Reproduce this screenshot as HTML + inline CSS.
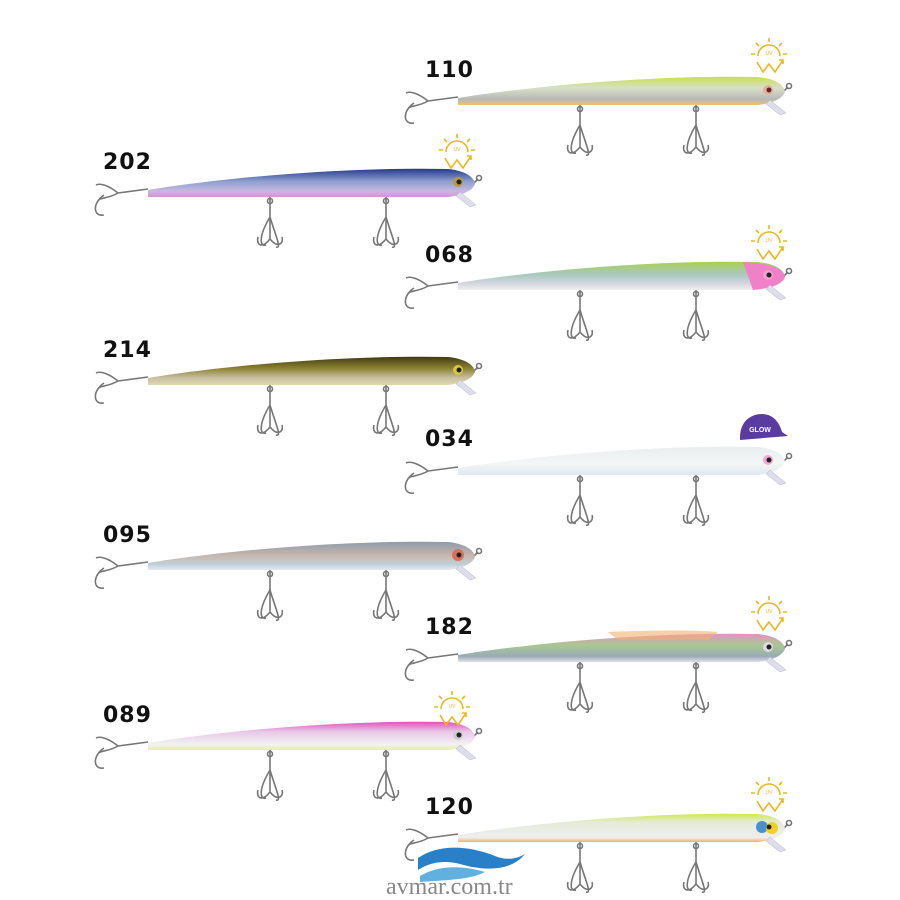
<!DOCTYPE html>
<html><head><meta charset="utf-8"><style>
html,body{margin:0;padding:0;background:#fff;width:900px;height:900px;overflow:hidden}
svg{display:block}
.lbl{font-family:"DejaVu Sans","Liberation Sans",sans-serif;font-weight:bold;font-size:22px;fill:#111;letter-spacing:1px}
</style></head><body>
<svg width="900" height="900" viewBox="0 0 900 900" xmlns="http://www.w3.org/2000/svg">
<defs>
<g id="hooks" fill="none" stroke="#777" stroke-width="1.6">
  <path d="M0,-8 L-30,-4 M-30,-4 C-40,-12 -48,-14 -52,-12 M-30,-4 C-40,2 -48,0 -50,4 M-44,-2 C-56,6 -55,20 -44,18"/>
  <path d="M122,0 L122,20 M122,20 C110,40 112,50 118,48 M122,20 C128,40 134,52 128,50 M122,20 L122,42 C114,52 108,48 110,40 M122,42 C130,52 136,46 134,40"/>
  <path d="M238,0 L238,20 M238,20 C226,40 228,50 234,48 M238,20 C244,40 250,52 244,50 M238,20 L238,42 C230,52 224,48 226,40 M238,42 C246,52 252,46 250,40"/>
  <circle cx="122" cy="4" r="2.5"/><circle cx="238" cy="4" r="2.5"/>
  <path d="M325,-13 L330,-18" />
  <circle cx="331" cy="-19" r="2.5"/>
</g>
<path id="lip" d="M312,-5 L328,8 L322,10 L308,-1 Z" fill="#dde" stroke="#bbb" stroke-width=".5"/>
<path id="body" d="M0,-7 C80,-20 200,-30 300,-28 C318,-26 326,-20 327,-13 C324,-6 315,-2 300,0 L0,0 Z"/>
<linearGradient id="g202" x1="0" y1="0" x2="0" y2="1"><stop offset="0" stop-color="#233a8a"/><stop offset=".45" stop-color="#8fa0d0"/><stop offset=".8" stop-color="#c8b8e0"/><stop offset="1" stop-color="#d690d8"/></linearGradient>
<linearGradient id="g214" x1="0" y1="0" x2="0" y2="1"><stop offset="0" stop-color="#3e3a12"/><stop offset=".4" stop-color="#8a8030"/><stop offset=".75" stop-color="#c8c0a0"/><stop offset="1" stop-color="#e0d8b0"/></linearGradient>
<linearGradient id="g095" x1="0" y1="0" x2="0" y2="1"><stop offset="0" stop-color="#8e9aa8"/><stop offset=".5" stop-color="#c8b8b0"/><stop offset=".8" stop-color="#c0d0d8"/><stop offset="1" stop-color="#e8e8f0"/></linearGradient>
<linearGradient id="g089" x1="0" y1="0" x2="0" y2="1"><stop offset="0" stop-color="#e050c0"/><stop offset=".35" stop-color="#e8c8e8"/><stop offset=".8" stop-color="#f2f2f2"/><stop offset="1" stop-color="#e8f0a0"/></linearGradient>
<linearGradient id="g110" x1="0" y1="0" x2="0" y2="1"><stop offset="0" stop-color="#c8e050"/><stop offset=".4" stop-color="#d8e0c8"/><stop offset=".8" stop-color="#b8b8b8"/><stop offset="1" stop-color="#f0c070"/></linearGradient>
<linearGradient id="g068" x1="0" y1="0" x2="0" y2="1"><stop offset="0" stop-color="#a8d050"/><stop offset=".45" stop-color="#a8c8c0"/><stop offset=".8" stop-color="#d8d8e0"/><stop offset="1" stop-color="#f0f0f0"/></linearGradient>
<linearGradient id="g034" x1="0" y1="0" x2="0" y2="1"><stop offset="0" stop-color="#e8eef0"/><stop offset=".6" stop-color="#f4f6f6"/><stop offset="1" stop-color="#e0e8ee"/></linearGradient>
<linearGradient id="g182" x1="0" y1="0" x2="0" y2="1"><stop offset="0" stop-color="#e890c8"/><stop offset=".4" stop-color="#a8c890"/><stop offset=".8" stop-color="#9aaab8"/><stop offset="1" stop-color="#e0e0e8"/></linearGradient>
<linearGradient id="g120" x1="0" y1="0" x2="0" y2="1"><stop offset="0" stop-color="#d0e850"/><stop offset=".3" stop-color="#e4ecd8"/><stop offset=".85" stop-color="#eeeeee"/><stop offset="1" stop-color="#f0b060"/></linearGradient>
<g id="uv" fill="none" stroke="#e8b820" stroke-width="1.6">
  <path d="M-11,0 A11,11 0 0 1 11,0"/>
  <path d="M0,-14 L0,-18 M-10,-10 L-13,-13 M10,-10 L13,-13 M-14,-2 L-18,-2 M14,-2 L18,-2"/>
  <path d="M-12,6 L-6,16 L0,8 L6,16 L14,4 M10,4 L14,4 L14,8"/>
  <text x="0" y="-1" font-size="5" fill="#e8b820" stroke="none" text-anchor="middle" font-family="Liberation Sans">UV</text>
</g>
</defs>

<g transform="translate(148,197)"><use href="#hooks"/><use href="#body" fill="url(#g202)"/><use href="#lip"/><circle cx="310" cy="-15" r="5" fill="#b89a40"/><circle cx="311" cy="-15" r="2.5" fill="#222"/></g>
<g transform="translate(148,385)"><use href="#hooks"/><use href="#body" fill="url(#g214)"/><use href="#lip"/><circle cx="310" cy="-15" r="5" fill="#d8c840"/><circle cx="311" cy="-15" r="2.5" fill="#222"/></g>
<g transform="translate(148,570)"><use href="#hooks"/><use href="#body" fill="url(#g095)"/><use href="#lip"/><circle cx="310" cy="-15" r="6" fill="#d87060"/><circle cx="311" cy="-15" r="2.5" fill="#222"/></g>
<g transform="translate(148,750)"><use href="#hooks"/><use href="#body" fill="url(#g089)"/><use href="#lip"/><circle cx="310" cy="-15" r="5" fill="#ccc"/><circle cx="311" cy="-15" r="2.5" fill="#222"/></g>

<g transform="translate(458,105)"><use href="#hooks"/><use href="#body" fill="url(#g110)"/><use href="#lip"/><circle cx="310" cy="-15" r="5" fill="#e0b0a0"/><circle cx="311" cy="-15" r="2.5" fill="#622"/></g>
<g transform="translate(458,290)"><use href="#hooks"/><use href="#body" fill="url(#g068)"/><path d="M285,-28 C318,-26 326,-20 327,-13 C324,-6 315,-2 295,0 Z" fill="#f080c8"/><use href="#lip"/><circle cx="310" cy="-15" r="5" fill="#f0a0d0"/><circle cx="311" cy="-15" r="2.5" fill="#222"/></g>
<g transform="translate(458,475)"><use href="#hooks"/><use href="#body" fill="url(#g034)"/><use href="#lip"/><circle cx="310" cy="-15" r="5" fill="#f0a8d0"/><circle cx="311" cy="-15" r="2.5" fill="#222"/></g>
<g transform="translate(458,662)"><use href="#hooks"/><use href="#body" fill="url(#g182)"/><path d="M150,-30 C200,-32 240,-32 260,-30 L250,-22 L160,-22 Z" fill="#f0b070" opacity=".6"/><use href="#lip"/><circle cx="310" cy="-15" r="5" fill="#ddd"/><circle cx="311" cy="-15" r="2.5" fill="#222"/></g>
<g transform="translate(458,842)"><use href="#hooks"/><use href="#body" fill="url(#g120)"/><use href="#lip"/><circle cx="304" cy="-15" r="6" fill="#4a90d0"/><circle cx="314" cy="-14" r="6" fill="#f0d020"/><circle cx="311" cy="-15" r="2.5" fill="#222"/></g>

<text class="lbl" x="103" y="169">202</text>
<text class="lbl" x="103" y="357">214</text>
<text class="lbl" x="103" y="542">095</text>
<text class="lbl" x="103" y="722">089</text>
<text class="lbl" x="425" y="77">110</text>
<text class="lbl" x="425" y="262">068</text>
<text class="lbl" x="425" y="446">034</text>
<text class="lbl" x="425" y="634">182</text>
<text class="lbl" x="425" y="814">120</text>

<use href="#uv" x="457" y="152"/>
<use href="#uv" x="769" y="56"/>
<use href="#uv" x="769" y="243"/>
<use href="#uv" x="769" y="614"/>
<use href="#uv" x="769" y="795"/>
<use href="#uv" x="452" y="709"/>

<path d="M740,438 C740,420 752,414 762,414 C774,414 780,424 782,432 L788,436 L740,440 Z" fill="#5a3ca0"/>
<text x="760" y="432" font-size="7" font-weight="bold" fill="#fff" text-anchor="middle" font-family="Liberation Sans">GLOW</text>

<path d="M418,858 C440,843 470,846 495,856 C505,860 515,860 525,854 C510,873 480,870 460,864 C445,860 430,862 418,870 Z" fill="#2a80c8"/>
<path d="M420,876 C440,864 465,866 485,872 C470,880 445,880 420,882 Z" fill="#60b0e0"/>
<text x="386" y="894" font-family="Liberation Serif,serif" font-size="24" fill="#888">avmar.com.tr</text>
</svg>
</body></html>
